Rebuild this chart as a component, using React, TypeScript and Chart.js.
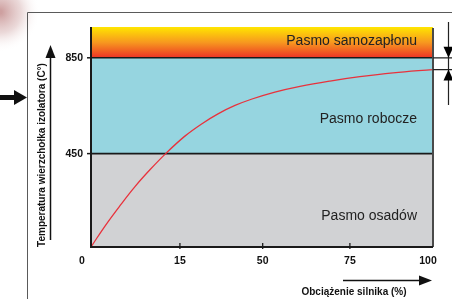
import React, { useEffect, useRef } from 'react';
import { Chart, LinearScale, registerables } from 'chart.js';

// ---- data ----
const loadPercent = [0, 2.36, 4.89, 7.42, 9.94, 12.64, 17.1, 24.35, 31.1, 38.3, 45.5, 53.5, 60.7, 69.3, 78.0, 88.0, 100];
const insulatorTemp = [0, 101, 199, 291, 372, 451, 523, 575, 616, 651, 678, 707, 731, 753, 771, 787, 801];
const xTickValues = [0, 15, 50, 75, 100];
const xTickLabels = ['0', '15', '50', '75', '100'];
const yTickValues = [450, 850];
const yTickLabels = ['450', '850'];
const bandTops = [450, 850, 980];
const bandNames = ['Pasmo osadów', 'Pasmo robocze', 'Pasmo samozapłonu'];
const xTitle = 'Obciążenie silnika (%)';
const yTitle = 'Temperatura wierzchołka izolatora (C°)';

const FONT = '"Liberation Sans", Arial, sans-serif';

function interp(from: number[], to: number[], v: number) {
  if (v <= from[0]) return to[0] + (v - from[0]) * (to[1] - to[0]) / (from[1] - from[0]);
  for (let i = 1; i < from.length; i++) {
    if (v <= from[i]) {
      const t = (v - from[i - 1]) / (from[i] - from[i - 1]);
      return to[i - 1] + t * (to[i] - to[i - 1]);
    }
  }
  const n = from.length - 1;
  return to[n] + (v - from[n]) * (to[n] - to[n - 1]) / (from[n] - from[n - 1]);
}

// Piecewise-linear axis (the original drawing uses uneven spacing)
class PiecewiseScale extends LinearScale {
  static id = 'piecewise';
  static defaults = { ...(LinearScale as any).defaults };
  getPixelForValue(value: number) {
    const bp = (this.options as any).breakpoints;
    const t = interp(bp.values, bp.decimals, value);
    return this.getPixelForDecimal(t);
  }
  getValueForPixel(pixel: number) {
    const bp = (this.options as any).breakpoints;
    const t = this.getDecimalForPixel(pixel);
    return interp(bp.decimals, bp.values, t);
  }
}

Chart.register(...registerables, PiecewiseScale as any);

function arrowHead(ctx: CanvasRenderingContext2D, tipX: number, tipY: number, dir: 'up' | 'down' | 'right', len: number, half: number) {
  ctx.beginPath();
  ctx.moveTo(tipX, tipY);
  if (dir === 'up') { ctx.lineTo(tipX - half, tipY + len); ctx.lineTo(tipX + half, tipY + len); }
  if (dir === 'down') { ctx.lineTo(tipX - half, tipY - len); ctx.lineTo(tipX + half, tipY - len); }
  if (dir === 'right') { ctx.lineTo(tipX - len, tipY - half); ctx.lineTo(tipX - len, tipY + half); }
  ctx.closePath();
  ctx.fill();
}

const decorPlugin = {
  id: 'decor',
  beforeDraw(chart: any) {
    const ctx: CanvasRenderingContext2D = chart.ctx;
    ctx.save();
    ctx.fillStyle = '#ffffff';
    ctx.fillRect(0, 0, chart.width, chart.height);
    // soft photo fragment top-left
    const g = ctx.createRadialGradient(0, 12, 2, 0, 12, 40);
    g.addColorStop(0, 'rgba(185,120,120,0.7)');
    g.addColorStop(0.5, 'rgba(205,160,160,0.4)');
    g.addColorStop(1, 'rgba(255,255,255,0)');
    ctx.fillStyle = g;
    ctx.fillRect(0, 0, 60, 70);
    // frame
    ctx.strokeStyle = '#5a5a5a';
    ctx.lineWidth = 1;
    ctx.beginPath();
    ctx.moveTo(27.5, chart.height);
    ctx.lineTo(27.5, 12.5);
    ctx.lineTo(chart.width, 12.5);
    ctx.stroke();
    // left pointing arrow
    ctx.fillStyle = '#111';
    ctx.fillRect(0, 95, 15, 5);
    arrowHead(ctx, 27, 97.5, 'right', 13, 7.5);
    ctx.restore();
  },
  afterDraw(chart: any) {
    const ctx: CanvasRenderingContext2D = chart.ctx;
    const xs = chart.scales.x;
    const ys = chart.scales.y;
    const a = chart.chartArea;
    ctx.save();
    // axes frame
    ctx.strokeStyle = '#4a4a4a';
    ctx.lineWidth = 2;
    ctx.beginPath();
    ctx.moveTo(a.right, a.top + 1);
    ctx.lineTo(a.right, a.bottom);
    ctx.stroke();
    ctx.strokeStyle = '#1a1a1a';
    ctx.beginPath();
    ctx.moveTo(a.left, a.top);
    ctx.lineTo(a.left, a.bottom);
    ctx.lineTo(a.right, a.bottom);
    ctx.stroke();
    // y tick marks
    ctx.lineWidth = 1.5;
    yTickValues.forEach((v) => {
      const py = ys.getPixelForValue(v);
      ctx.beginPath();
      ctx.moveTo(a.left - 4, py);
      ctx.lineTo(a.left, py);
      ctx.stroke();
    });
    // x tick marks
    ctx.lineWidth = 1.3;
    xTickValues.slice(1, -1).forEach((v) => {
      const px = xs.getPixelForValue(v);
      ctx.beginPath();
      ctx.moveTo(px, a.bottom - 4);
      ctx.lineTo(px, a.bottom + 2);
      ctx.stroke();
    });
    // tick labels
    ctx.fillStyle = '#111';
    ctx.font = `bold 10.5px ${FONT}`;
    ctx.textBaseline = 'middle';
    ctx.textAlign = 'right';
    yTickValues.forEach((v, i) => {
      ctx.fillText(yTickLabels[i], a.left - 8, ys.getPixelForValue(v) + 0.5);
    });
    ctx.textAlign = 'center';
    xTickValues.forEach((v, i) => {
      let px = xs.getPixelForValue(v);
      if (i === 0) px -= 9;
      if (i === xTickValues.length - 1) px -= 5;
      ctx.fillText(xTickLabels[i], px, a.bottom + 14);
    });
    // band labels
    ctx.fillStyle = '#222';
    ctx.font = `14px ${FONT}`;
    ctx.textAlign = 'right';
    const fr = [0.67, 0.64, 0.45];
    let lower = 0;
    bandTops.forEach((top, i) => {
      const pBottom = ys.getPixelForValue(lower);
      const pTop = ys.getPixelForValue(top);
      ctx.fillText(bandNames[i], a.right - 16, pTop + (pBottom - pTop) * fr[i]);
      lower = top;
    });
    // axis titles
    ctx.fillStyle = '#111';
    ctx.font = `bold 10px ${FONT}`;
    ctx.textAlign = 'center';
    ctx.fillText(xTitle, 354, a.bottom + 45);
    ctx.save();
    ctx.translate(42, 155);
    ctx.rotate(-Math.PI / 2);
    ctx.fillText(yTitle, 0, 0);
    ctx.restore();
    // arrows along titles
    ctx.strokeStyle = '#111';
    ctx.fillStyle = '#111';
    ctx.lineWidth = 1.5;
    ctx.beginPath();
    ctx.moveTo(50.5, 240);
    ctx.lineTo(50.5, 55);
    ctx.stroke();
    arrowHead(ctx, 50.5, 45, 'up', 13, 5);
    ctx.beginPath();
    ctx.moveTo(343, a.bottom + 33.5);
    ctx.lineTo(422, a.bottom + 33.5);
    ctx.stroke();
    arrowHead(ctx, 432, a.bottom + 33.5, 'right', 13, 5);
    // right margin indicator
    const y850 = ys.getPixelForValue(850);
    const yEnd = ys.getPixelForValue(insulatorTemp[insulatorTemp.length - 1]);
    ctx.lineWidth = 1.2;
    ctx.strokeStyle = '#222';
    ctx.beginPath();
    ctx.moveTo(a.right, y850); ctx.lineTo(chart.width, y850);
    ctx.moveTo(a.right, yEnd); ctx.lineTo(chart.width, yEnd);
    ctx.moveTo(448.5, 22); ctx.lineTo(448.5, 105);
    ctx.stroke();
    ctx.fillStyle = '#000';
    arrowHead(ctx, 448.5, y850, 'down', 11, 5);
    arrowHead(ctx, 448.5, yEnd, 'up', 11, 5);
    ctx.restore();
  },
};

export default function App() {
  const ref = useRef<HTMLCanvasElement>(null);
  useEffect(() => {
    if (!ref.current) return;
    const bandColors = ['#d1d2d4', '#96d5e0'];
    const bandData = (v: number) => [{ x: 0, y: v }, { x: 100, y: v }];
    const chart = new Chart(ref.current, {
      type: 'line',
      data: {
        datasets: [
          {
            label: bandNames[0],
            data: bandData(bandTops[0]),
            borderColor: '#1a1a1a',
            borderWidth: 1.6,
            backgroundColor: bandColors[0],
            fill: 'origin',
            pointRadius: 0,
            order: 1,
          },
          {
            label: bandNames[1],
            data: bandData(bandTops[1]),
            borderColor: '#1a1a1a',
            borderWidth: 1.6,
            backgroundColor: bandColors[1],
            fill: '-1',
            pointRadius: 0,
            order: 2,
          },
          {
            label: bandNames[2],
            data: bandData(bandTops[2]),
            borderWidth: 0,
            borderColor: 'rgba(0,0,0,0)',
            backgroundColor: (c: any) => {
              const ch = c.chart;
              const area = ch.chartArea;
              if (!area) return '#f7941d';
              const ys = ch.scales.y;
              const top = ys.getPixelForValue(bandTops[2]);
              const bot = ys.getPixelForValue(bandTops[1]);
              const g = ch.ctx.createLinearGradient(0, top, 0, bot);
              g.addColorStop(0, '#ffe600');
              g.addColorStop(0.5, '#f7981f');
              g.addColorStop(1, '#ec3326');
              return g;
            },
            fill: '-1',
            pointRadius: 0,
            order: 3,
          },
          {
            label: 'Temperatura',
            data: loadPercent.map((x, i) => ({ x, y: insulatorTemp[i] })),
            borderColor: '#e8323c',
            borderWidth: 1.3,
            fill: false,
            pointRadius: 0,
            tension: 0.4,
            order: 0,
          },
        ],
      },
      options: {
        animation: false,
        responsive: false,
        events: [],
        layout: { padding: { left: 91, right: 19, top: 27, bottom: 52 } },
        plugins: { legend: { display: false }, tooltip: { enabled: false } },
        scales: {
          x: {
            type: 'piecewise' as any,
            min: 0,
            max: 100,
            display: false,
            breakpoints: { values: xTickValues, decimals: [0, 0.26, 0.502, 0.757, 1] },
          } as any,
          y: {
            type: 'piecewise' as any,
            min: 0,
            max: bandTops[2],
            display: false,
            breakpoints: { values: [0, ...bandTops], decimals: [0, 0.4245, 0.86, 1] },
          } as any,
        },
      },
      plugins: [decorPlugin],
    });
    return () => chart.destroy();
  }, []);
  return (
    <div style={{ position: 'fixed', left: 0, top: 0, width: 452, height: 299, background: '#fff' }}>
      <canvas ref={ref} width={452} height={299} style={{ display: 'block', width: 452, height: 299 }} />
    </div>
  );
}
